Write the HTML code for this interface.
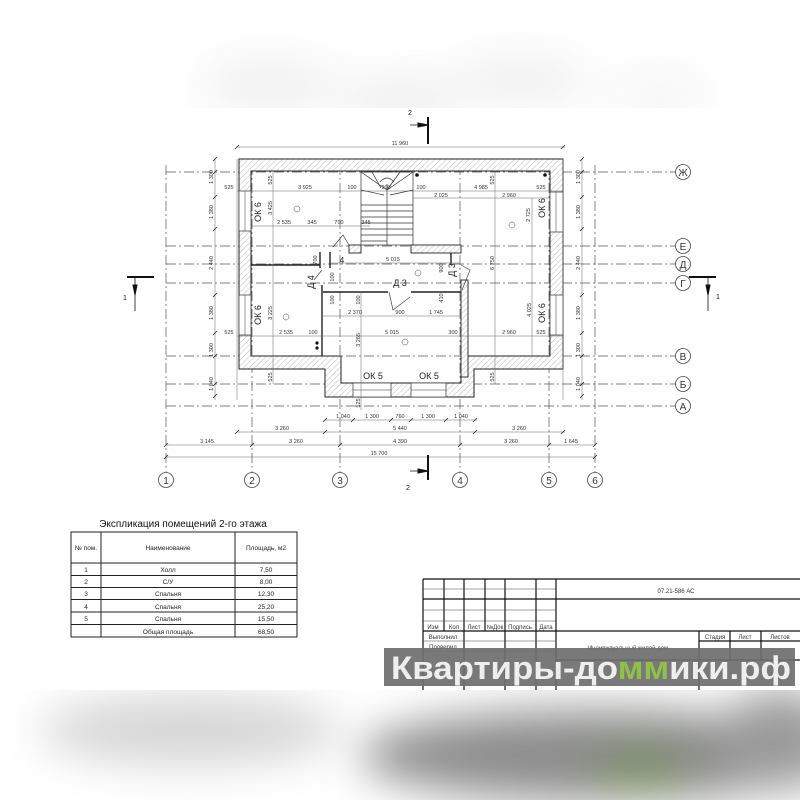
<!DOCTYPE html>
<html><head><meta charset="utf-8"><style>
html,body{margin:0;padding:0;background:#fff}
svg{display:block}
text{font-family:"Liberation Sans",sans-serif}
</style></head><body>
<svg width="800" height="800" viewBox="0 0 800 800" xmlns="http://www.w3.org/2000/svg">
<defs>
<pattern id="h" width="4" height="4" patternUnits="userSpaceOnUse" patternTransform="rotate(45)">
<rect width="4" height="4" fill="#fff"/><line x1="0" y1="0" x2="0" y2="4" stroke="#aaa" stroke-width="0.8"/></pattern>
<filter id="b1" x="-50%" y="-50%" width="200%" height="200%"><feGaussianBlur stdDeviation="22"/></filter>
<clipPath id="ct"><rect x="0" y="0" width="800" height="108"/></clipPath>
<clipPath id="cb"><rect x="0" y="690" width="800" height="110"/></clipPath>
</defs>

<!-- top blurred band -->
<g clip-path="url(#ct)"><g filter="url(#b1)" opacity="0.55">
<ellipse cx="270" cy="85" rx="70" ry="25" fill="#e2e2e2"/>
<ellipse cx="400" cy="100" rx="60" ry="20" fill="#dcdcdc"/>
<ellipse cx="520" cy="80" rx="70" ry="25" fill="#e4e4e4"/>
<ellipse cx="660" cy="95" rx="50" ry="20" fill="#eaeaea"/>
</g></g>

<!-- grid axes -->
<g stroke="#555" stroke-width="0.7" stroke-dasharray="10,3,2,3" fill="none">
<line x1="166" y1="172" x2="676" y2="172"/>
<line x1="166" y1="246" x2="676" y2="246"/>
<line x1="166" y1="264" x2="676" y2="264"/>
<line x1="166" y1="283" x2="676" y2="283"/>
<line x1="166" y1="356" x2="676" y2="356"/>
<line x1="166" y1="384" x2="676" y2="384"/>
<line x1="166" y1="406" x2="676" y2="406"/>
<line x1="166" y1="165" x2="166" y2="472"/>
<line x1="252" y1="165" x2="252" y2="472"/>
<line x1="340" y1="165" x2="340" y2="472"/>
<line x1="460" y1="165" x2="460" y2="472"/>
<line x1="549" y1="165" x2="549" y2="472"/>
<line x1="595" y1="165" x2="595" y2="472"/>
</g>
<g fill="#fff" stroke="#444" stroke-width="0.8">
<circle cx="683" cy="172" r="7.5"/><circle cx="683" cy="246" r="7.5"/><circle cx="683" cy="264" r="7.5"/>
<circle cx="683" cy="283" r="7.5"/><circle cx="683" cy="356" r="7.5"/><circle cx="683" cy="384" r="7.5"/><circle cx="683" cy="406" r="7.5"/>
<circle cx="166" cy="480" r="7.5"/><circle cx="252" cy="480" r="7.5"/><circle cx="340" cy="480" r="7.5"/>
<circle cx="460" cy="480" r="7.5"/><circle cx="549" cy="480" r="7.5"/><circle cx="595" cy="480" r="7.5"/>
</g>
<g font-size="10" text-anchor="middle" fill="#333">
<text x="683" y="176">Ж</text><text x="683" y="250">Е</text><text x="683" y="268">Д</text><text x="683" y="287">Г</text>
<text x="683" y="360">В</text><text x="683" y="388">Б</text><text x="683" y="410">А</text>
<text x="166" y="484">1</text><text x="252" y="484">2</text><text x="340" y="484">3</text>
<text x="460" y="484">4</text><text x="549" y="484">5</text><text x="595" y="484">6</text>
</g>

<!-- walls -->
<path fill="url(#h)" fill-rule="evenodd" stroke="#222" stroke-width="1"
 d="M239 159H563V369H474V397H325V369H239Z M251 171H550V356H461V383H341V356H251Z"/>
<g fill="#fff" stroke="#333" stroke-width="0.7">
<rect x="239" y="191" width="12" height="40"/><rect x="239" y="295" width="12" height="40"/>
<rect x="550" y="192" width="13" height="40"/><rect x="550" y="295" width="13" height="40"/>
<rect x="353" y="383" width="38" height="14"/><rect x="411" y="383" width="35" height="14"/>
</g>
<g stroke="#333" stroke-width="0.5">
<line x1="245" y1="191" x2="245" y2="231"/><line x1="245" y1="295" x2="245" y2="335"/>
<line x1="556" y1="192" x2="556" y2="232"/><line x1="556" y1="295" x2="556" y2="335"/>
<line x1="353" y1="390" x2="391" y2="390"/><line x1="411" y1="390" x2="446" y2="390"/>
</g>

<!-- interior walls -->
<g fill="url(#h)" stroke="#222" stroke-width="0.9">
<rect x="349" y="245" width="12" height="8"/>
<rect x="411" y="245" width="50" height="8"/>
<rect x="461" y="280" width="7" height="97"/>
</g>
<g stroke="#222" stroke-width="1.4" fill="none">
<line x1="251" y1="265" x2="320" y2="265"/>
<line x1="323" y1="292" x2="388" y2="292"/>
<line x1="411" y1="292" x2="461" y2="292"/>
<line x1="322" y1="285" x2="322" y2="356"/>
<line x1="320" y1="252" x2="320" y2="268"/>
<line x1="330" y1="252" x2="330" y2="268"/>
<line x1="451" y1="253" x2="451" y2="265"/>
</g>
<g stroke="#444" stroke-width="0.7" fill="none">
<path d="M389 292 L393 310 L410 297"/>
<path d="M461 265 L470 270 L462 290"/>
<path d="M333 247 L343 235 L349 245"/>
<path d="M322 270 L314 280"/>
</g>
<g stroke="#333" stroke-width="0.7" fill="none">
<rect x="361" y="172" width="52" height="73"/>
<line x1="387" y1="184" x2="387" y2="245"/>
<path d="M361 205H387M361 211H387M361 217H387M361 223H387M361 229H387M361 235H387M361 241H387"/>
<path d="M387 205H413M387 211H413M387 217H413M387 223H413M387 229H413M387 235H413"/>
<path d="M361 172L387 190M372 172L381 188M387 190L413 172M387 190L400 172M361 190L384 195M413 190L390 195"/>
<path d="M380 182 Q387 174 394 182"/>
</g>
<circle cx="417" cy="175" r="1.8" fill="#111"/><circle cx="545" cy="175" r="1.8" fill="#111"/>
<circle cx="317" cy="343" r="1.6" fill="#111"/><circle cx="317" cy="348" r="1.6" fill="#111"/>

<!-- dimension lines -->
<g stroke="#666" stroke-width="0.5" fill="none">
<line x1="237" y1="147" x2="565" y2="147"/>
<line x1="215" y1="159" x2="215" y2="400"/><line x1="237" y1="159" x2="237" y2="400"/>
<line x1="582" y1="159" x2="582" y2="400"/><line x1="563" y1="159" x2="563" y2="400"/>
<line x1="237" y1="191" x2="563" y2="191"/>
<line x1="413" y1="198" x2="550" y2="198"/>
<line x1="251" y1="226" x2="370" y2="226"/>
<line x1="330" y1="263" x2="460" y2="263"/>
<line x1="323" y1="316" x2="461" y2="316"/>
<line x1="237" y1="336" x2="563" y2="336"/>
<line x1="325" y1="420" x2="477" y2="420"/>
<line x1="237" y1="432" x2="565" y2="432"/>
<line x1="166" y1="445" x2="595" y2="445"/>
<line x1="166" y1="457" x2="595" y2="457"/>
<line x1="273" y1="171" x2="273" y2="384"/>
<line x1="495" y1="171" x2="495" y2="384"/>
<line x1="532" y1="198" x2="532" y2="356"/>
<line x1="361" y1="292" x2="361" y2="410"/>
</g>
<g stroke="#222" stroke-width="0.8">
<path d="M235 149l4-4M561 149l4-4M213 161l4-4M213 174l4-4M213 199l4-4M213 231l4-4M213 297l4-4M213 335l4-4M213 358l4-4M213 386l4-4M213 398l4-4"/>
<path d="M580 161l4-4M580 174l4-4M580 199l4-4M580 231l4-4M580 297l4-4M580 335l4-4M580 358l4-4M580 386l4-4M580 398l4-4"/>
<path d="M323 422l4-4M351 422l4-4M389 422l4-4M409 422l4-4M444 422l4-4M473 422l4-4"/>
<path d="M235 434l4-4M323 434l4-4M473 434l4-4M561 434l4-4"/>
<path d="M164 447l4-4M250 447l4-4M338 447l4-4M458 447l4-4M547 447l4-4M593 447l4-4M164 459l4-4M593 459l4-4"/>
</g>

<g font-size="5.5" text-anchor="middle" fill="#333">
<text x="400" y="145">11 960</text>
<text x="229" y="189">525</text><text x="305" y="189">3 925</text><text x="352" y="189">100</text><text x="386" y="189">900</text><text x="421" y="189">100</text><text x="481" y="189">4 985</text><text x="541" y="189">525</text>
<text x="441" y="197">2 025</text><text x="509" y="197">2 960</text>
<text x="284" y="224">2 535</text><text x="312" y="224">345</text><text x="339" y="224">700</text><text x="366" y="224">345</text>
<text x="393" y="261">5 015</text>
<text x="355" y="314">2 370</text><text x="400" y="314">900</text><text x="436" y="314">1 745</text>
<text x="229" y="334">525</text><text x="286" y="334">2 535</text><text x="313" y="334">100</text><text x="392" y="334">5 015</text><text x="453" y="334">300</text><text x="509" y="334">2 960</text><text x="541" y="334">525</text>
<text x="343" y="418">1 040</text><text x="372" y="418">1 300</text><text x="400" y="418">760</text><text x="428" y="418">1 300</text><text x="461" y="418">1 040</text>
<text x="282" y="430">3 260</text><text x="400" y="430">5 440</text><text x="519" y="430">3 260</text>
<text x="207" y="443">3 145</text><text x="296" y="443">3 260</text><text x="400" y="443">4 390</text><text x="511" y="443">3 260</text><text x="571" y="443">1 645</text>
<text x="379" y="455">15 700</text>
</g>
<g font-size="5.5" text-anchor="middle" fill="#333">
<text transform="translate(213,177) rotate(-90)">1 300</text><text transform="translate(213,212) rotate(-90)">1 380</text>
<text transform="translate(213,263) rotate(-90)">2 440</text><text transform="translate(213,313) rotate(-90)">1 380</text>
<text transform="translate(213,350) rotate(-90)">1 300</text><text transform="translate(213,384) rotate(-90)">1 040</text>
<text transform="translate(580,177) rotate(-90)">1 300</text><text transform="translate(580,212) rotate(-90)">1 380</text>
<text transform="translate(580,263) rotate(-90)">2 440</text><text transform="translate(580,313) rotate(-90)">1 380</text>
<text transform="translate(580,350) rotate(-90)">1 300</text><text transform="translate(580,384) rotate(-90)">1 040</text>
<text transform="translate(272,180) rotate(-90)">525</text><text transform="translate(272,208) rotate(-90)">3 425</text>
<text transform="translate(272,313) rotate(-90)">3 225</text><text transform="translate(272,377) rotate(-90)">525</text>
<text transform="translate(494,180) rotate(-90)">525</text><text transform="translate(494,263) rotate(-90)">6 750</text>
<text transform="translate(494,377) rotate(-90)">525</text>
<text transform="translate(530,215) rotate(-90)">2 725</text><text transform="translate(531,310) rotate(-90)">4 025</text>
<text transform="translate(360,340) rotate(-90)">3 265</text><text transform="translate(360,403) rotate(-90)">525</text>
<text transform="translate(317,260) rotate(-90)">700</text><text transform="translate(334,277) rotate(-90)">100</text>
<text transform="translate(443,268) rotate(-90)">900</text><text transform="translate(443,298) rotate(-90)">410</text>
<text transform="translate(334,300) rotate(-90)">100</text><text transform="translate(360,300) rotate(-90)">100</text>
</g>
<g font-size="9" text-anchor="middle" fill="#222">
<text transform="translate(261,212) rotate(-90)">ОК 6</text><text transform="translate(261,315) rotate(-90)">ОК 6</text>
<text transform="translate(545,208) rotate(-90)">ОК 6</text><text transform="translate(545,313) rotate(-90)">ОК 6</text>
<text x="373" y="379">ОК 5</text><text x="429" y="379">ОК 5</text>
<text x="400" y="286">Д 3</text>
<text transform="translate(455,270) rotate(-90)">Д 3</text>
<text transform="translate(314,282) rotate(-90)">Д 4</text>
<text x="342" y="263" font-size="8">4</text>
</g>
<g fill="none" stroke="#444" stroke-width="0.5">
<circle cx="297" cy="209" r="3"/><circle cx="286" cy="317" r="3"/><circle cx="512" cy="225" r="3"/>
<circle cx="418" cy="273" r="3"/><circle cx="405" cy="342" r="3"/>
</g>

<!-- section markers -->
<g stroke="#111" fill="#111">
<line x1="428" y1="117" x2="428" y2="144" stroke-width="2"/>
<line x1="410" y1="125" x2="428" y2="125" stroke-width="0.8"/><path d="M418 123L428 125L418 127Z"/>
<line x1="428" y1="455" x2="428" y2="480" stroke-width="2"/>
<line x1="410" y1="471" x2="428" y2="471" stroke-width="0.8"/><path d="M418 469L428 471L418 473Z"/>
<line x1="127" y1="277" x2="154" y2="277" stroke-width="2"/>
<line x1="135" y1="277" x2="135" y2="311" stroke-width="0.8"/><path d="M133 285L135 295L137 285Z"/>
<line x1="689" y1="277" x2="716" y2="277" stroke-width="2"/>
<line x1="708" y1="277" x2="708" y2="311" stroke-width="0.8"/><path d="M706 285L708 295L710 285Z"/>
</g>
<g font-size="7" fill="#111" text-anchor="middle">
<text x="410" y="115">2</text><text x="408" y="490">2</text><text x="125" y="300">1</text><text x="718" y="299">1</text>
</g>

<!-- explication table -->
<text x="183" y="527" font-size="10" text-anchor="middle" fill="#111">Экспликация помещений 2-го этажа</text>
<g stroke="#222" stroke-width="1" fill="none">
<rect x="71" y="532" width="226" height="105"/>
<line x1="101" y1="532" x2="101" y2="637"/><line x1="235" y1="532" x2="235" y2="637"/>
<line x1="71" y1="563" x2="297" y2="563"/><line x1="71" y1="575.5" x2="297" y2="575.5"/>
<line x1="71" y1="587.5" x2="297" y2="587.5"/><line x1="71" y1="599.5" x2="297" y2="599.5"/>
<line x1="71" y1="612" x2="297" y2="612"/><line x1="71" y1="624.5" x2="297" y2="624.5"/>
</g>
<g font-size="6.5" text-anchor="middle" fill="#222">
<text x="86" y="550">№ пом.</text><text x="168" y="550">Наименование</text><text x="266" y="550">Площадь, м2</text>
<text x="86" y="572">1</text><text x="168" y="572">Холл</text><text x="266" y="572">7,50</text>
<text x="86" y="584">2</text><text x="168" y="584">С/У</text><text x="266" y="584">8,00</text>
<text x="86" y="596">3</text><text x="168" y="596">Спальня</text><text x="266" y="596">12,30</text>
<text x="86" y="609">4</text><text x="168" y="609">Спальня</text><text x="266" y="609">25,20</text>
<text x="86" y="621">5</text><text x="168" y="621">Спальня</text><text x="266" y="621">15,50</text>
<text x="168" y="634">Общая площадь</text><text x="266" y="634">68,50</text>
</g>

<!-- title block -->
<g stroke="#111" stroke-width="1.2" fill="none">
<line x1="423" y1="579" x2="800" y2="579"/><line x1="423" y1="579" x2="423" y2="700"/>
<line x1="423" y1="599" x2="800" y2="599"/><line x1="423" y1="631" x2="800" y2="631"/>
<line x1="444" y1="579" x2="444" y2="631"/><line x1="464" y1="579" x2="464" y2="700"/>
<line x1="485" y1="579" x2="485" y2="631"/><line x1="505" y1="579" x2="505" y2="700"/>
<line x1="536" y1="579" x2="536" y2="700"/><line x1="556" y1="579" x2="556" y2="700"/>
<line x1="699" y1="631" x2="699" y2="700"/><line x1="730" y1="631" x2="730" y2="660"/><line x1="761" y1="631" x2="761" y2="660"/>
<line x1="699" y1="641" x2="800" y2="641"/><line x1="556" y1="660" x2="800" y2="660"/>
</g>
<g stroke="#444" stroke-width="0.5">
<line x1="423" y1="589" x2="556" y2="589"/><line x1="423" y1="610" x2="556" y2="610"/><line x1="423" y1="621" x2="556" y2="621"/>
<line x1="423" y1="641" x2="556" y2="641"/><line x1="423" y1="651" x2="556" y2="651"/>
</g>
<g font-size="6" text-anchor="middle" fill="#333">
<text x="676" y="593">07.21-586 АС</text>
<text x="433" y="629">Изм</text><text x="454" y="629">Кол</text><text x="474" y="629">Лист</text><text x="495" y="629">№Док</text><text x="520" y="629">Подпись</text><text x="546" y="629">Дата</text>
<text x="443" y="639">Выполнил</text><text x="443" y="649">Проверил</text>
<text x="628" y="650">Индивидуальный жилой дом</text>
<text x="715" y="639">Стадия</text><text x="745" y="639">Лист</text><text x="780" y="639">Листов</text>
</g>

<!-- bottom blur -->
<rect x="0" y="690" width="800" height="110" fill="#fff"/>
<g clip-path="url(#cb)"><g filter="url(#b1)">
<ellipse cx="190" cy="730" rx="150" ry="35" fill="#d6d6d6"/>
<ellipse cx="600" cy="755" rx="240" ry="45" fill="#8c8c8c"/>
<ellipse cx="780" cy="740" rx="60" ry="50" fill="#9a9a9a"/>
<ellipse cx="640" cy="770" rx="50" ry="25" fill="#7d9068"/>
</g></g>

<!-- watermark -->
<rect x="384" y="648" width="411" height="38" fill="#6e6e6e" opacity="0.92"/>
<text x="391" y="679" font-size="32" font-weight="bold" fill="#eeeeee" textLength="400" lengthAdjust="spacingAndGlyphs">Квартиры-до<tspan fill="#8fc04a">мм</tspan>ики.рф</text>
</svg>
</body></html>
